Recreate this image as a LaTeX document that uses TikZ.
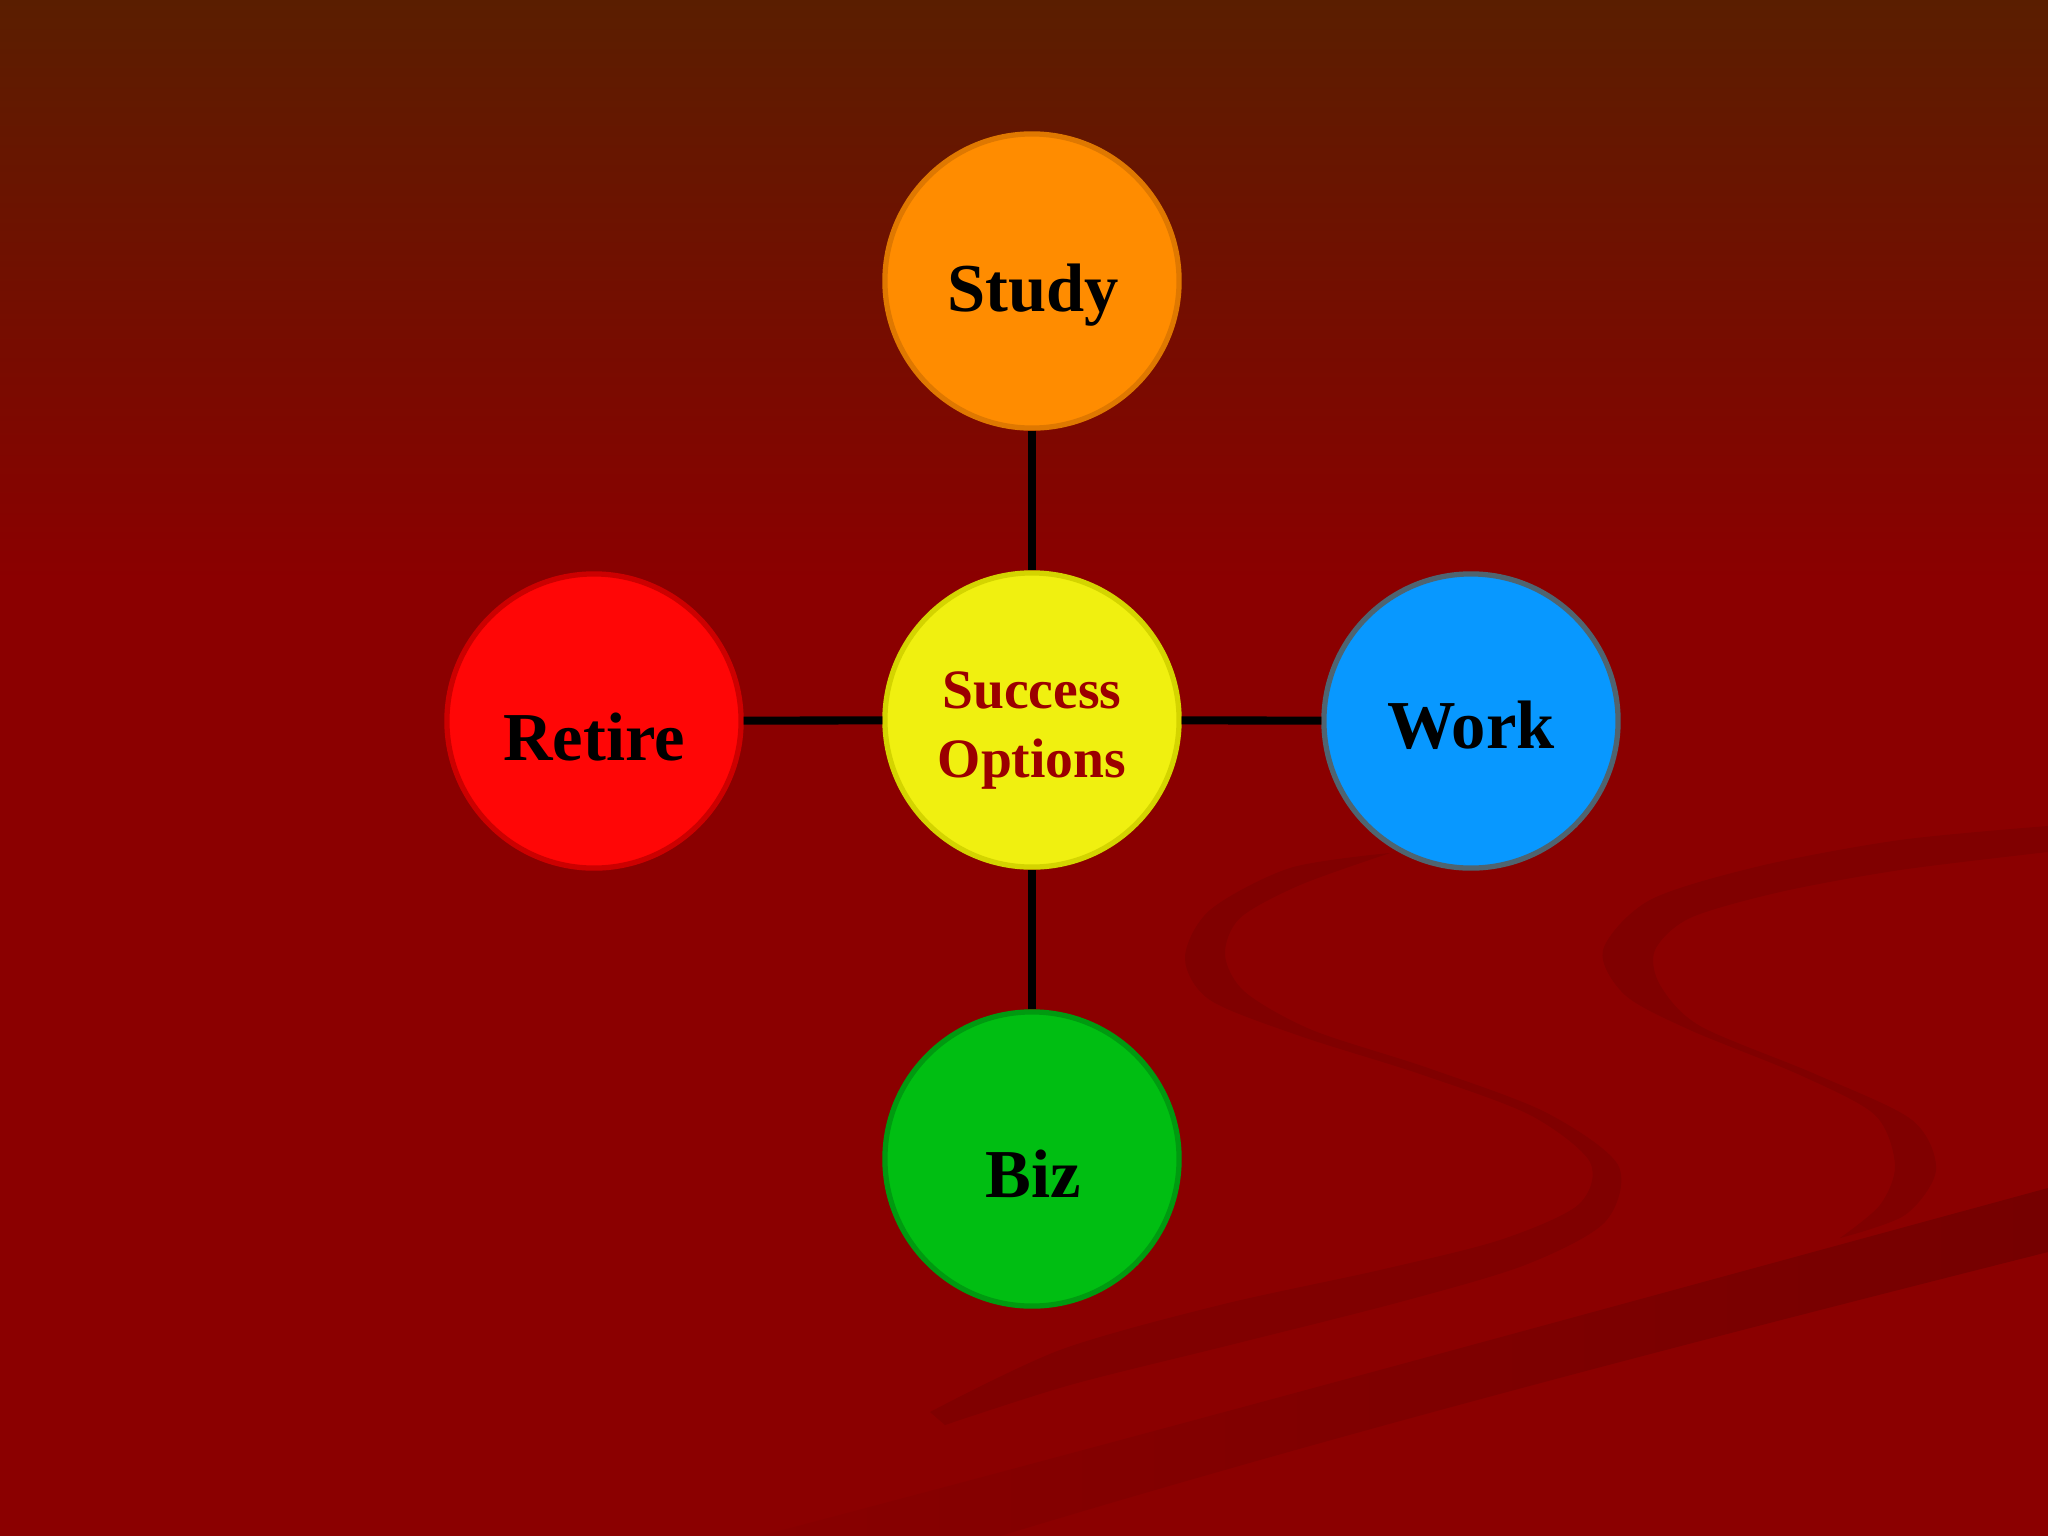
\documentclass[tikz,border=0pt]{standalone}
\usepackage{fontspec}
\setmainfont{Liberation Serif}
\definecolor{topc}{HTML}{5A1E00}
\definecolor{bgc}{HTML}{8B0000}
\definecolor{swirlc}{HTML}{800000}
\definecolor{wedgec}{HTML}{760000}
\definecolor{wedgel}{HTML}{880000}
\definecolor{centertext}{HTML}{9B0000}
\definecolor{centerb}{HTML}{D4D400}
\definecolor{centerf}{HTML}{F0F010}
\definecolor{studyb}{HTML}{DF7800}
\definecolor{studyf}{HTML}{FF8C00}
\definecolor{retireb}{HTML}{CC0000}
\definecolor{retiref}{HTML}{FF0606}
\definecolor{workb}{HTML}{4F6470}
\definecolor{workf}{HTML}{0898FF}
\definecolor{bizb}{HTML}{009A10}
\definecolor{bizf}{HTML}{00BE12}
\begin{document}
\begin{tikzpicture}[x=0.01cm,y=-0.01cm,
  bubble/.style={circle,minimum size=2.94cm,inner sep=0pt,line width=1.5pt},
  word/.style={anchor=base,inner sep=0pt,font=\bfseries\fontsize{19.5}{23}\selectfont,text=black},
  midword/.style={anchor=base,inner sep=0pt,font=\bfseries\fontsize{15.8}{19}\selectfont,text=centertext},
  link/.style={line width=2.3pt,draw=black}]
\useasboundingbox (0,0) rectangle (2048,1536);
% background
\fill[bgc] (0,0) rectangle (2048,1536);
\shade[top color=topc,bottom color=bgc] (0,0) rectangle (2048,580);
% decorative swirl
\fill[swirlc] plot[smooth] coordinates {(1390,853) (1290,868) (1210,910) (1185,958) (1210,1000) (1300,1036) (1420,1074) (1530,1115) (1590,1162) (1578,1205) (1500,1240) (1380,1270) (1220,1305) (1060,1350) (930,1412)}
  -- plot[smooth] coordinates {(945,1425) (1070,1385) (1230,1345) (1400,1302) (1525,1265) (1605,1222) (1618,1165) (1545,1112) (1428,1068) (1312,1030) (1245,992) (1225,955) (1240,918) (1300,885) (1390,853)} -- cycle;
\fill[swirlc] plot[smooth] coordinates {(2048,826) (1900,840) (1760,866) (1650,900) (1603,950) (1625,995) (1690,1030) (1800,1075) (1875,1115) (1895,1165) (1880,1205) (1840,1238)}
  -- plot[smooth] coordinates {(1840,1238) (1905,1215) (1936,1170) (1912,1120) (1815,1074) (1700,1026) (1660,985) (1655,950) (1690,918) (1780,892) (1900,870) (2048,852)} -- cycle;
\shade[left color=wedgel,right color=wedgec] (2048,1188) .. controls (1600,1310) and (1200,1420) .. (760,1536)
  -- (1000,1536) .. controls (1350,1430) and (1700,1340) .. (2048,1252) -- cycle;
% nodes
\node[bubble,draw=centerb,fill=centerf] (center) at (1032,720) {};
\node[bubble,draw=studyb,fill=studyf] (study) at (1032,281) {};
\node[bubble,draw=retireb,fill=retiref] (retire) at (594,721) {};
\node[bubble,draw=workb,fill=workf] (work) at (1471,721) {};
\node[bubble,draw=bizb,fill=bizf] (biz) at (1032,1159) {};
% connectors
\draw[link] (study) -- (center);
\draw[link] (retire) -- (center);
\draw[link] (work) -- (center);
\draw[link] (biz) -- (center);
% labels
\node[word] (studyT) at (1033,311) {Study};
\node[word] (retireT) at (594,760) {Retire};
\node[word] (workT) at (1471,748) {Work};
\node[word] (bizT) at (1033,1197) {Biz};
\node[midword] (centerA) at (1032,708) {Success};
\node[midword] (centerB) at (1032,777) {Options};
\end{tikzpicture}
\end{document}
